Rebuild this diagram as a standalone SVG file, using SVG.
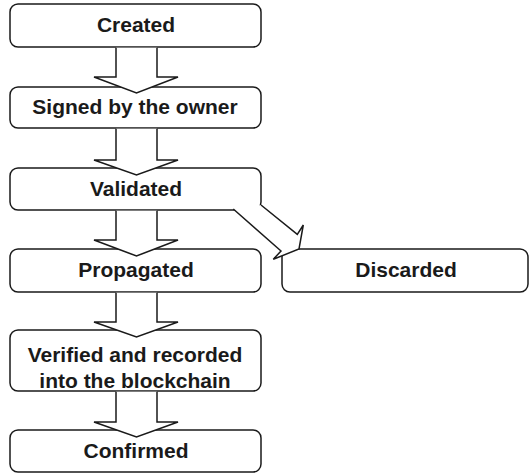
<svg xmlns="http://www.w3.org/2000/svg" width="531" height="473" viewBox="0 0 531 473">
<style>
.box{fill:#fff;stroke:#1a1a1a;stroke-width:1.5}
.arr{fill:#fff;stroke:#1a1a1a;stroke-width:1.5;stroke-linejoin:miter}
.t{font-family:"Liberation Sans",Arial,Helvetica,sans-serif;font-weight:bold;font-size:21px;fill:#1a1a1a;text-anchor:middle}
</style>
<rect width="531" height="473" fill="#fff"/>
<g id="created"><rect class="box" x="10" y="4" width="251" height="43" rx="8"/><text class="t" x="136" y="32">Created</text></g>
<g id="signed"><rect class="box" x="10" y="87" width="251" height="41" rx="8"/><text class="t" x="135" y="114">Signed by the owner</text></g>
<g id="validated"><rect class="box" x="10" y="168" width="251" height="42" rx="8"/><text class="t" x="136" y="195.5">Validated</text></g>
<g id="propagated"><rect class="box" x="10" y="249" width="251" height="43" rx="8"/><text class="t" x="136" y="277">Propagated</text></g>
<g id="discarded"><rect class="box" x="282" y="249" width="246" height="43" rx="8"/><text class="t" x="406" y="277">Discarded</text></g>
<g id="verified"><rect class="box" x="10" y="330" width="251" height="61" rx="8"/><text class="t" x="135" y="362">Verified and recorded</text><text class="t" x="135" y="388">into the blockchain</text></g>
<g id="confirmed"><rect class="box" x="10" y="430" width="251" height="42" rx="8"/><text class="t" x="136" y="457.5">Confirmed</text></g>
<g id="connectors">
<path class="arr" d="M116,47.8 V77 H94 L136.5,93 L178,77 H157 V47.8"/>
<path class="arr" d="M116,128.8 V160 H94 L136.5,175 L178,160 H157 V128.8"/>
<path class="arr" d="M116,210.8 V240 H94 L136.5,256 L178,240 H157 V210.8"/>
<path class="arr" d="M116,292.8 V322 H94 L136.5,337 L178,322 H157 V292.8"/>
<path class="arr" d="M116,391.8 V422 H94 L136.5,437 L178,422 H157 V391.8"/>
<path class="arr" d="M261,205 L297.3,234.3 L303.3,225 L299,249 L273.3,259.3 L281,251 L233.3,209"/>
</g>
</svg>
